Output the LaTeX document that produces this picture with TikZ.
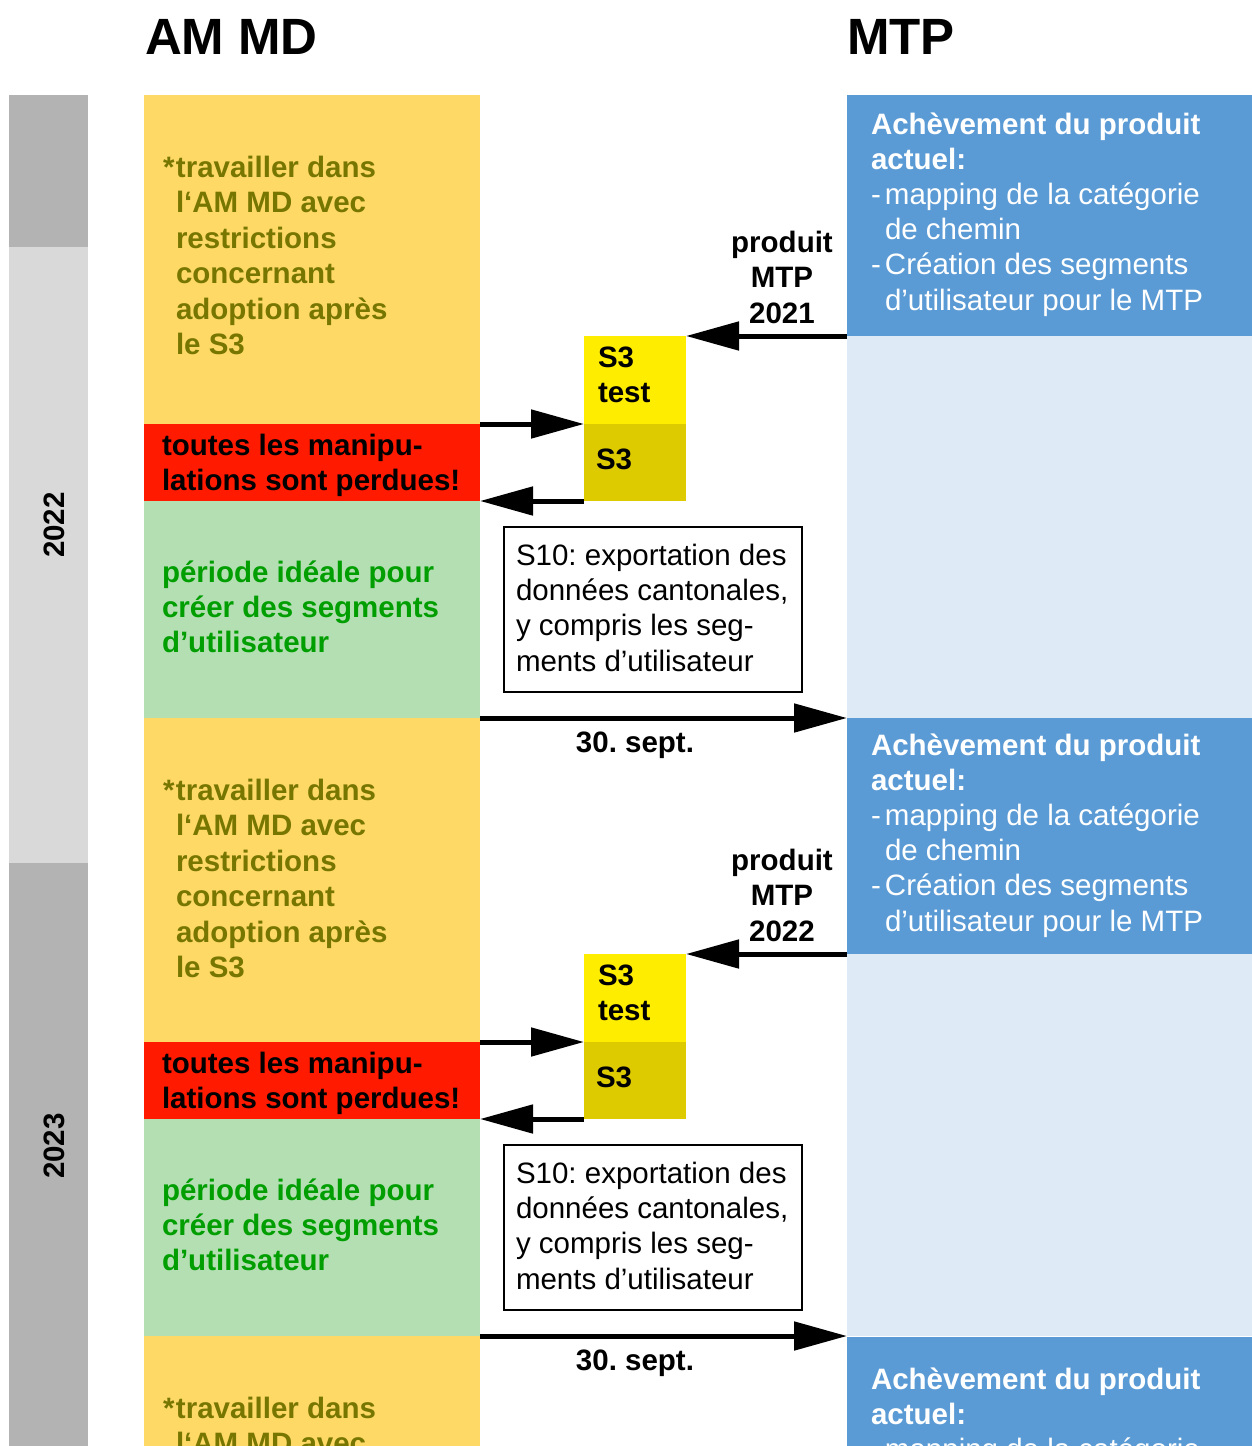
\documentclass[tikz,border=0pt]{standalone}
\usepackage{fontspec}
\setmainfont{Liberation Sans}
\usetikzlibrary{arrows.meta}
\frenchspacing
\definecolor{cyel}{HTML}{FFD966}
\definecolor{cred}{HTML}{FF1A00}
\definecolor{cgrn}{HTML}{B3DFB3}
\definecolor{tgrn}{HTML}{009E00}
\definecolor{tolive}{HTML}{767600}
\definecolor{sthy}{HTML}{FFED00}
\definecolor{sthd}{HTML}{DDCB00}
\definecolor{cblue}{HTML}{5B9BD5}
\definecolor{clblue}{HTML}{DEEAF6}
\definecolor{gdark}{HTML}{B3B3B3}
\definecolor{glight}{HTML}{D9D9D9}
\newcommand\myblk[7]{\node[blk,fill=#2,minimum width=#5pt,minimum height=#6pt] (#1) at (#3,#4) {#7};}
\begin{document}
\frenchspacing
\begin{tikzpicture}[x=1pt,y=-1pt,
  blk/.style={anchor=north west,inner sep=0pt,outer sep=0pt,draw=none},
  txt/.style={inner sep=0pt,outer sep=0pt,anchor=base west,align=left,font=\fontsize{29.5}{35.4}\selectfont},
  ctxt/.style={inner sep=0pt,outer sep=0pt,anchor=base,align=center,font=\fontsize{29.5}{35.4}\selectfont\bfseries},
  title/.style={inner sep=0pt,outer sep=0pt,anchor=base west,font=\fontsize{51}{60}\selectfont\bfseries},
  arr/.style={line width=5pt,-{Triangle[length=53pt,width=28pt]}},
  expbox/.style={anchor=north west,inner sep=0pt,outer sep=0pt,draw=black,line width=2pt,fill=white,minimum width=298pt,minimum height=165pt}]
\useasboundingbox (0,0) rectangle (1252,1446);
\clip (0,0) rectangle (1252,1446);
% titles
\node[title] (tamd) at (145,54) {AM MD};
\node[title] (tmtp) at (847,54) {MTP};
% year column
\myblk{yr0}{gdark}{9}{95}{79}{152}{}
\myblk{yr1}{glight}{9}{247}{79}{616}{}
\myblk{yr2}{gdark}{9}{863}{79}{600}{}
\node[ctxt,anchor=center,rotate=90] (y2022) at (54,525) {2022};
\node[ctxt,anchor=center,rotate=90] (y2023) at (54,1146) {2023};
% AM MD column
\myblk{ya}{cyel}{144}{95}{336}{329}{}
\myblk{ra}{cred}{144}{424}{336}{77}{}
\myblk{ga}{cgrn}{144}{501}{336}{217}{}
\myblk{yb}{cyel}{144}{718}{336}{324}{}
\myblk{rb}{cred}{144}{1042}{336}{77}{}
\myblk{gb}{cgrn}{144}{1119}{336}{217}{}
\myblk{yc}{cyel}{144}{1336}{336}{130}{}
% S3 boxes
\myblk{ta}{sthy}{584}{336}{102}{88}{}
\myblk{ba}{sthd}{584}{424}{102}{77}{}
\myblk{tb}{sthy}{584}{954}{102}{88}{}
\myblk{bb}{sthd}{584}{1042}{102}{77}{}
% MTP column
\myblk{ma}{cblue}{847}{95}{405}{241}{}
\myblk{la}{clblue}{847}{336}{405}{382}{}
\myblk{mb}{cblue}{847}{718}{405}{236}{}
\myblk{lb}{clblue}{847}{954}{405}{382}{}
\myblk{mc}{cblue}{847}{1337}{405}{130}{}
% export boxes
\node[expbox] (ea) at (504,527) {};
\node[expbox] (eb) at (504,1145) {};
% texts (anchor = baseline of the last line)
\foreach \n/\o in {a/0,b/623,c/1241}{
  \node[txt,text=tolive,font=\fontsize{29.5}{35.5}\selectfont\bfseries] (tw\n) at (176,354.5+\o)
    {\llap{*\hspace{1.5pt}}travailler dans\\l‘AM MD avec\\restrictions\\concernant\\adoption après\\le S3};
}
\foreach \n/\o in {a/0,b/618}{
  \node[txt,font=\fontsize{29.5}{35}\selectfont\bfseries] (tr\n) at (162,490+\o)
    {toutes les manipu-\\lations sont perdues!};
  \node[txt,text=tgrn,font=\fontsize{29.5}{35.2}\selectfont\bfseries] (tg\n) at (162,652.4+\o)
    {période idéale pour\\créer des segments\\d’utilisateur};
  \node[txt,font=\fontsize{29.5}{35}\selectfont\bfseries] (st\n) at (598,402+\o) {S3\\test};
  \node[txt,font=\fontsize{29.5}{35}\selectfont\bfseries] (sb\n) at (596,469+\o) {S3};
  \node[txt,font=\fontsize{29.5}{35.3}\selectfont] (ex\n) at (516,671+\o)
    {S10: exportation des\\données cantonales,\\y compris les seg-\\ments d’utilisateur};
  \node[ctxt] (sep\n) at (635,752+\o) {30. sept.};
}
\node[ctxt,font=\fontsize{29.5}{35.5}\selectfont\bfseries] (pa) at (782,323) {produit\\MTP\\2021};
\node[ctxt,font=\fontsize{29.5}{35.5}\selectfont\bfseries] (pb) at (782,941) {produit\\MTP\\2022};
\foreach \n/\yy in {a/310,b/931,c/1565}{
  \node[txt,text=white,font=\fontsize{29.5}{35.2}\selectfont] (bt\n) at (871,\yy)
    {\textbf{Achèvement du produit}\\\textbf{actuel:}\\\makebox[14pt][l]{-}mapping de la catégorie\\\hspace*{14pt}de chemin\\\makebox[14pt][l]{-}Création des segments\\\hspace*{14pt}d’utilisateur pour le MTP};
}
% connectors
\draw[arr] (ma.south west) -- (ta.north east);
\draw[arr] (ra.north east) -- (ta.south west);
\draw[arr] (ba.south west) -- (ra.south east);
\draw[arr] (ga.south east) -- (la.south west);
\draw[arr] (mb.south west) -- (tb.north east);
\draw[arr] (rb.north east) -- (tb.south west);
\draw[arr] (bb.south west) -- (rb.south east);
\draw[arr] (gb.south east) -- (lb.south west);
\end{tikzpicture}
\end{document}
